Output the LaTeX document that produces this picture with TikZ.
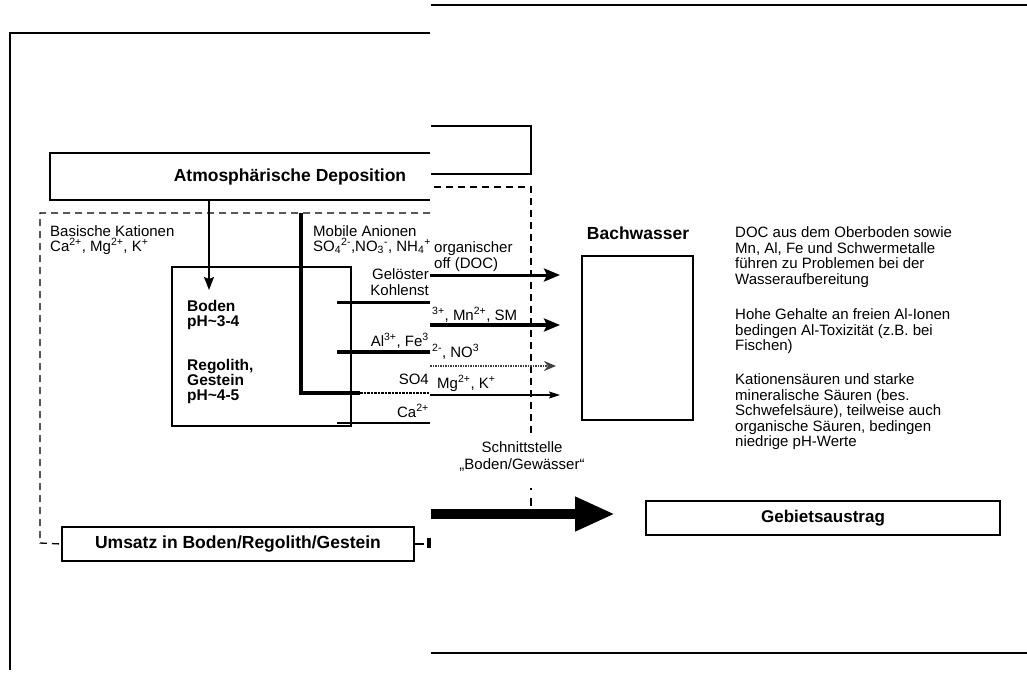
\documentclass[tikz,border=0pt]{standalone}
\usepackage{fontspec}
\setmainfont{Liberation Sans}
\usetikzlibrary{arrows.meta}
\begin{document}
\begin{tikzpicture}[x=1pt,y=-1pt,
  frame/.style={line width=1.2pt},
  dsh/.style={line width=1.3pt, dash pattern=on 7pt off 5pt},
  box/.style={draw, line width=1.2pt, inner sep=0pt},
  txt/.style={inner sep=0pt, font=\fontsize{15}{15}\selectfont},
  hd/.style={inner sep=0pt, font=\fontsize{17.5}{17.5}\selectfont\bfseries},
  bd/.style={inner sep=0pt, font=\fontsize{15.5}{15.5}\selectfont\bfseries},
  flow/.style={-{Stealth[length=16pt,width=13pt,inset=3pt]}},
]
\useasboundingbox (0,0) rectangle (1027,678);

% outer frame fragments
\draw[frame] (430,33) -- (10,33) -- (10,670);
\draw[frame] (431,5) -- (1027,5);
\draw[frame] (431,653) -- (1027,653);

% Atmospharische Deposition box (spliced)
\draw[frame] (430,153) -- (50,153) -- (50,200) -- (430,200);
\draw[frame] (431,126) -- (531,126) -- (531,174) -- (431,174);
\node[hd] (atm) at (290,177) {Atmosphärische Deposition};

% boxes
\node[box, minimum width=179pt, minimum height=159pt] (boden) at (261.5,346.5) {};
\node[box, minimum width=111pt, minimum height=164pt] (bach) at (637.5,338) {};
\node[box, hd, minimum width=352pt, minimum height=34pt] (ums) at (238,544) {Umsatz in Boden/Regolith/Gestein};
\node[box, hd, font=\fontsize{17}{17}\selectfont\bfseries, minimum width=354pt, minimum height=34pt] (geb) at (823,518) {Gebietsaustrag};
\node[hd] (bachlbl) at (638,233) {Bachwasser};

% dashed system boundaries
\draw[dsh] (430,213) -| (40,543) -- (ums.west);
\draw[dsh] (434,187) -- (531,187) -- (531,437);
\coordinate (sA) at (531,488);
\coordinate (sB) at (531,498);
\coordinate (sC) at (531,506);
\draw[line width=1.2pt] (sA) -- ++(0,1.5);
\draw[line width=1.2pt] (sB) -- (sC);
\draw[frame] (ums.east) -- ++(9,0);
\fill (427,538) rectangle (431,548);

% deposition arrow into soil
\coordinate (dA) at (209,200);
\coordinate (dB) at (209,290);
\draw[line width=1.5pt, -{Stealth[length=13pt,width=10pt,inset=2pt]}] (dA) -- (dB);

% boden text
\node[bd, anchor=base west] (b1) at (187,311) {Boden};
\node[bd, anchor=base west] (b2) at (187,326) {pH\textasciitilde3-4};
\node[bd, anchor=base west] (b3) at (187,370) {Regolith,};
\node[bd, anchor=base west] (b4) at (187,385) {Gestein};
\node[bd, anchor=base west] (b5) at (187,400) {pH\textasciitilde4-5};

% mobile anion path (thick ragged line)
\coordinate (mA) at (301,213);
\coordinate (mB) at (301,393);
\coordinate (mC) at (360,393);
\coordinate (mD) at (430,393);
\draw[line width=3.5pt] (mA) -- (mB) -- (mC);
\draw[line width=2.5pt, dash pattern=on 2.5pt off 1pt] (mC) -- (mD);

% lines leaving the soil box (left fragment)
\coordinate (l1) at (337,302);
\coordinate (l1e) at (430,302);
\coordinate (l2) at (337,352);
\coordinate (l2e) at (430,352);
\coordinate (l3) at (337,423);
\coordinate (l3e) at (430,423);
\draw[line width=3pt] (l1) -- (l1e);
\draw[line width=4pt] (l2) -- (l2e);
\draw[line width=1.2pt] (l3) -- (l3e);

% arrows into the stream (right fragment)
\coordinate (r1) at (430,275);
\coordinate (r1e) at (560,275);
\coordinate (r2) at (430,325);
\coordinate (r2e) at (560,325);
\coordinate (r3) at (430,366);
\coordinate (r3e) at (556,366);
\coordinate (r4) at (430,395);
\coordinate (r4e) at (560,395);
\draw[line width=3pt, flow] (r1) -- (r1e);
\draw[line width=4pt, flow] (r2) -- (r2e);
\draw[line width=2pt, black!75, dash pattern=on 1.5pt off 1pt, -{Stealth[length=12pt,width=10pt]}] (r3) -- (r3e);
\draw[line width=1.2pt, -{Stealth[length=11pt,width=7pt,inset=2pt]}] (r4) -- (r4e);

% big export arrow
\coordinate (gA) at (431,514);
\coordinate (gB) at (615,514);
\draw[line width=10pt, -{Triangle[length=40pt,width=32pt]}] (gA) -- (gB);

% left labels
\node[txt, anchor=base west] (k1) at (50,236) {Basische Kationen};
\node[txt, anchor=base west] (k2) at (50,251) {Ca\textsuperscript{2+}, Mg\textsuperscript{2+}, K\textsuperscript{+}};
\node[txt, anchor=base west] (a1) at (313,236) {Mobile Anionen};
\node[txt, anchor=base west] (a2) at (313,251) {SO\textsubscript{4}\textsuperscript{2-},NO\textsubscript{3}\textsuperscript{-}, NH\textsubscript{4}\textsuperscript{+}};
\node[txt, anchor=base east] (g1) at (429,279) {Gelöster};
\node[txt, anchor=base east] (g2) at (429,295) {Kohlenst};
\node[txt, anchor=base east] (g3) at (429,346) {Al\textsuperscript{3+}, Fe\textsuperscript{3}};
\node[txt, anchor=base east] (g4) at (429,384) {SO4};
\node[txt, anchor=base east] (g5) at (429,417) {Ca\textsuperscript{2+}};

% right fragment labels
\node[txt, anchor=base west] (o1) at (434,252) {organischer};
\node[txt, anchor=base west] (o2) at (434,268) {off (DOC)};
\node[txt, anchor=base west] (o3) at (432,320) {\textsuperscript{3+}, Mn\textsuperscript{2+}, SM};
\node[txt, anchor=base west] (o4) at (432,357) {\textsuperscript{2-}, NO\textsuperscript{3}};
\node[txt, anchor=base west] (o5) at (437,388) {Mg\textsuperscript{2+}, K\textsuperscript{+}};

\node[txt] (sch1) at (522,447) {Schnittstelle};
\node[txt] (sch2) at (522,465) {„Boden/Gewässer“};

% explanatory text
\node[txt, anchor=base west] (t1) at (735,237) {DOC aus dem Oberboden sowie};
\node[txt, anchor=base west] (t2) at (735,253) {Mn, Al, Fe und Schwermetalle};
\node[txt, anchor=base west] (t3) at (735,268) {führen zu Problemen bei der};
\node[txt, anchor=base west] (t4) at (735,284) {Wasseraufbereitung};
\node[txt, anchor=base west] (t5) at (735,319) {Hohe Gehalte an freien Al-Ionen};
\node[txt, anchor=base west] (t6) at (735,335) {bedingen Al-Toxizität (z.B. bei};
\node[txt, anchor=base west] (t7) at (735,350) {Fischen)};
\node[txt, anchor=base west] (t8) at (735,384) {Kationensäuren und starke};
\node[txt, anchor=base west] (t9) at (735,400) {mineralische Säuren (bes.};
\node[txt, anchor=base west] (t10) at (735,415) {Schwefelsäure), teilweise auch};
\node[txt, anchor=base west] (t11) at (735,431) {organische Säuren, bedingen};
\node[txt, anchor=base west] (t12) at (735,446) {niedrige pH-Werte};
\end{tikzpicture}
\end{document}
